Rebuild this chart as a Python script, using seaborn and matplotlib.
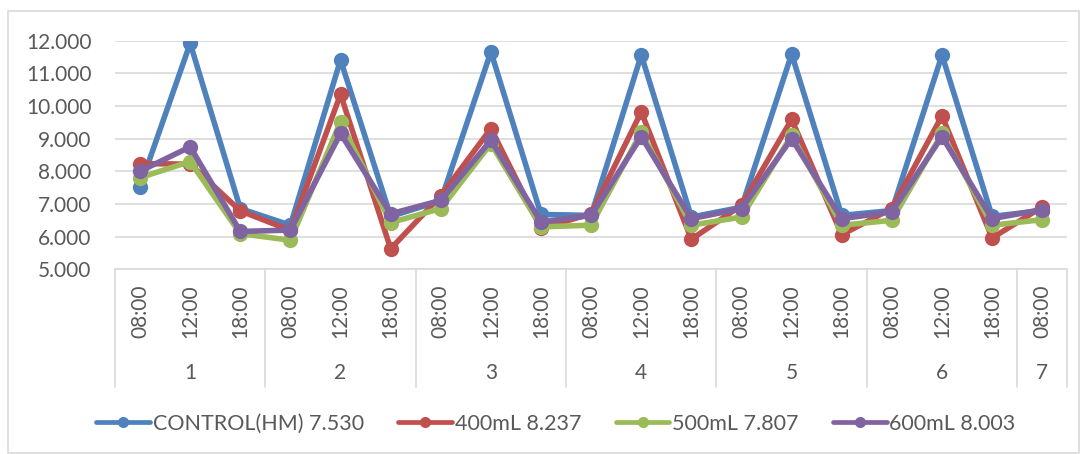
import matplotlib
matplotlib.use("Agg")
import matplotlib.pyplot as plt
import matplotlib.transforms as mtransforms
from matplotlib.patches import Rectangle
import numpy as np
import pandas as pd
import seaborn as sns

# ---- data ----
days = ["1", "2", "3", "4", "5", "6", "7"]
times = ["08:00", "12:00", "18:00"] * 6 + ["08:00"]
control = [7.53, 11.92, 6.86, 6.35, 11.41, 6.62, 7.10, 11.66, 6.68, 6.65, 11.56, 6.60, 6.90, 11.59, 6.65, 6.80, 11.56, 6.62, 6.80]
ml400 = [8.237, 8.22, 6.79, 6.19, 10.36, 5.63, 7.25, 9.31, 6.25, 6.70, 9.82, 5.92, 6.96, 9.59, 6.06, 6.86, 9.70, 5.96, 6.91]
ml500 = [7.807, 8.30, 6.09, 5.89, 9.52, 6.43, 6.86, 8.85, 6.30, 6.35, 9.20, 6.35, 6.60, 9.10, 6.35, 6.50, 9.16, 6.35, 6.52]
ml600 = [8.003, 8.75, 6.16, 6.20, 9.16, 6.70, 7.11, 8.95, 6.45, 6.65, 9.06, 6.55, 6.86, 9.00, 6.55, 6.76, 9.06, 6.55, 6.83]
series_names = ["CONTROL(HM) 7.530", "400mL 8.237", "500mL 7.807", "600mL 8.003"]
colors = ["#4F81BD", "#C0504D", "#9BBB59", "#8064A2"]

idx = np.arange(len(times))
frames = []
for name, vals in zip(series_names, [control, ml400, ml500, ml600]):
    frames.append(pd.DataFrame({"idx": idx, "value": vals, "series": name}))
df = pd.concat(frames, ignore_index=True)

sns.set_theme(style="white")
plt.rcParams["font.family"] = ["Lato", "DejaVu Sans"]
txt = "#595959"
grid_c = "#D9D9D9"

W, H = 1086, 454
fig = plt.figure(figsize=(W / 100, H / 100), dpi=100)
ax = fig.add_axes([115 / W, 1 - 269.3 / H, (1067.3 - 115) / W, (269.3 - 40.7) / H])

sns.lineplot(data=df, x="idx", y="value", hue="series", palette=colors,
             hue_order=series_names, marker="o", markersize=11,
             markeredgewidth=0, linewidth=4.0, ax=ax, legend=False)

ax.set_xlim(-0.5, len(times) - 0.5)
ax.set_ylim(5, 12)
ax.set_yticks(np.arange(5, 13, 1))
ax.set_yticklabels([f"{v:.3f}" for v in np.arange(5, 13, 1)], fontsize=15, color=txt)
ax.set_xticks(idx)
ax.set_xticklabels(times, rotation=90, fontsize=15, color=txt, va="top")
ax.tick_params(axis="both", length=0)
ax.tick_params(axis="y", pad=17)
ax.tick_params(axis="x", pad=11)
ax.set_xlabel("")
ax.set_ylabel("")
for s in ["top", "right", "left"]:
    ax.spines[s].set_visible(False)
ax.spines["bottom"].set_color(grid_c)
ax.spines["bottom"].set_linewidth(1.2)
ax.yaxis.grid(True, color=grid_c, linewidth=1.2)
ax.set_axisbelow(True)

# category group separators and day labels
trans = mtransforms.blended_transform_factory(ax.transData, ax.transAxes)
bottom_frac = (269.3 - 386.7) / (269.3 - 40.7)
label_frac = (269.3 - 373) / (269.3 - 40.7)
bounds = [-0.5, 2.5, 5.5, 8.5, 11.5, 14.5, 17.5, 18.5]
for b in bounds:
    ax.plot([b, b], [0, bottom_frac], transform=trans, color=grid_c,
            linewidth=1.2, clip_on=False)
for i, d in enumerate(days):
    c = (bounds[i] + bounds[i + 1]) / 2
    ax.text(c, label_frac, d, transform=trans, ha="center", va="center",
            fontsize=15, color=txt)

# legend
handles = [plt.Line2D([0], [0], color=c, linewidth=3.4, marker="o",
                      markersize=8, markeredgewidth=0) for c in colors]
fig.legend(handles, series_names, loc="center", ncol=4,
           bbox_to_anchor=(556 / W, 1 - 424 / H), frameon=False,
           fontsize=15.5, labelcolor=txt, handlelength=2.5,
           handletextpad=0.12, columnspacing=1.6)

# outer chart border
fig.patches.append(Rectangle((8 / W, 1 / H), (1079 - 8) / W, (443 - 1) / H,
                             transform=fig.transFigure, fill=False,
                             edgecolor=grid_c, linewidth=1.2))

fig.savefig("out.png", dpi=100, facecolor="white")
